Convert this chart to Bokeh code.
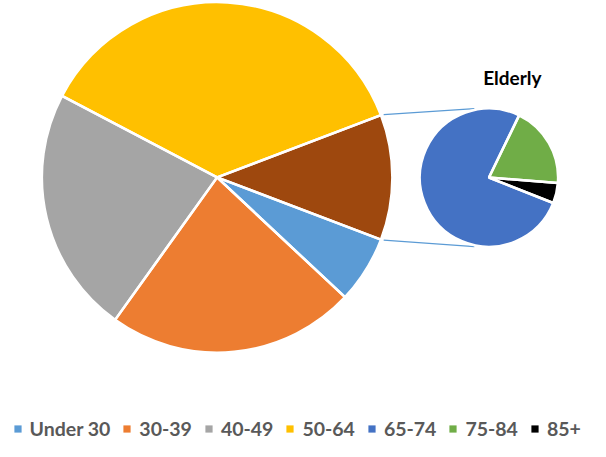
import math
from bokeh.plotting import figure
from bokeh.models import ColumnDataSource, Range1d, Legend, LegendItem, Label
from bokeh.embed import file_html
from bokeh.resources import INLINE

# ---- data ----
main_labels = ["Under 30", "30-39", "40-49", "50-64"]
main_values = [6.2, 22.9, 22.8, 36.5]
main_colors = ["#5B9BD5", "#ED7D31", "#A5A5A5", "#FFC000"]

elderly_name = "Elderly"
elderly_color = "#9E480E"
elderly_labels = ["65-74", "75-84", "85+"]
elderly_values = [8.8, 2.2, 0.55]
elderly_colors = ["#4472C4", "#70AD47", "#000000"]

# ---- layout constants (reference pixels, y downward -> negated) ----
MX, MY, MR = 222.5, -183.3, 180.0
SX, SY, SR = 501.7, -183.5, 71.0
SECOND_START = -21.6      # degrees, edge where the secondary pie starts (clockwise)
CONNECT_ANGLE = 101.8     # degrees on the secondary pie where connectors end


def clockwise(values, start_deg):
    total = float(sum(values))
    starts, ends, cum = [], [], 0.0
    for v in values:
        starts.append(math.radians(start_deg - (cum + v) / total * 360.0))
        ends.append(math.radians(start_deg - cum / total * 360.0))
        cum += v
    return starts, ends


elderly_total = sum(elderly_values)
pie_labels = main_labels + [elderly_name]
pie_values = main_values + [elderly_total]
pie_colors = main_colors + [elderly_color]
half = elderly_total / sum(pie_values) * 180.0

ms, me = clockwise(pie_values, -half)
main_src = ColumnDataSource(dict(label=pie_labels, value=pie_values,
                                 start=ms, end=me, color=pie_colors))
ss, se = clockwise(elderly_values, SECOND_START)
sec_src = ColumnDataSource(dict(label=elderly_labels, value=elderly_values,
                                start=ss, end=se, color=elderly_colors))

p = figure(width=590, height=441, x_range=Range1d(0, 606), y_range=Range1d(-457, 0),
           output_backend="svg", toolbar_location=None, x_axis_type=None, y_axis_type=None,
           min_border=0, outline_line_color=None)
p.grid.visible = False
p.background_fill_color = "white"
p.border_fill_color = "white"

# connector lines
a = math.radians(half)
c = math.radians(CONNECT_ANGLE)
x0 = [MX + (MR + 3) * math.cos(a), MX + (MR + 3) * math.cos(-a)]
y0 = [MY + (MR + 3) * math.sin(a), MY + (MR + 3) * math.sin(-a)]
x1 = [SX + (SR + 2) * math.cos(c), SX + (SR + 2) * math.cos(-c)]
y1 = [SY + (SR + 2) * math.sin(c), SY + (SR + 2) * math.sin(-c)]
p.segment(x0=x0, y0=y0, x1=x1, y1=y1, line_color="#5B9BD5", line_width=1.3)

r_main = p.wedge(x=MX, y=MY, radius=MR, start_angle="start", end_angle="end",
                 fill_color="color", line_color=None, source=main_src)
p.wedge(x=MX, y=MY, radius=MR, start_angle="start", end_angle="end",
        fill_color=None, line_color="white", line_width=2.5, source=main_src)

r_sec = p.wedge(x=SX, y=SY, radius=SR, start_angle="start", end_angle="end",
                fill_color="color", line_color=None, source=sec_src)
p.wedge(x=SX, y=SY, radius=SR, start_angle="start", end_angle="end",
        fill_color=None, line_color="white", line_width=2.5, source=sec_src)

p.add_layout(Label(x=525.7, y=-80, text=elderly_name, text_align="center",
                   text_baseline="alphabetic", text_font="Lato", text_font_style="bold",
                   text_font_size="19px", text_color="black"))

items = [LegendItem(label=lab, renderers=[r_main], index=i) for i, lab in enumerate(main_labels)]
items += [LegendItem(label=lab, renderers=[r_sec], index=i) for i, lab in enumerate(elderly_labels)]
legend = Legend(items=items, orientation="horizontal", location=(12.5, 1),
                glyph_width=9, glyph_height=9, label_standoff=8, spacing=12,
                padding=0, margin=0, border_line_color=None, background_fill_alpha=0,
                label_text_font="Lato", label_text_font_style="bold",
                label_text_font_size="19.5px", label_text_color="#595959")
p.add_layout(legend)

open("out.html", "w").write(file_html(p, INLINE))
